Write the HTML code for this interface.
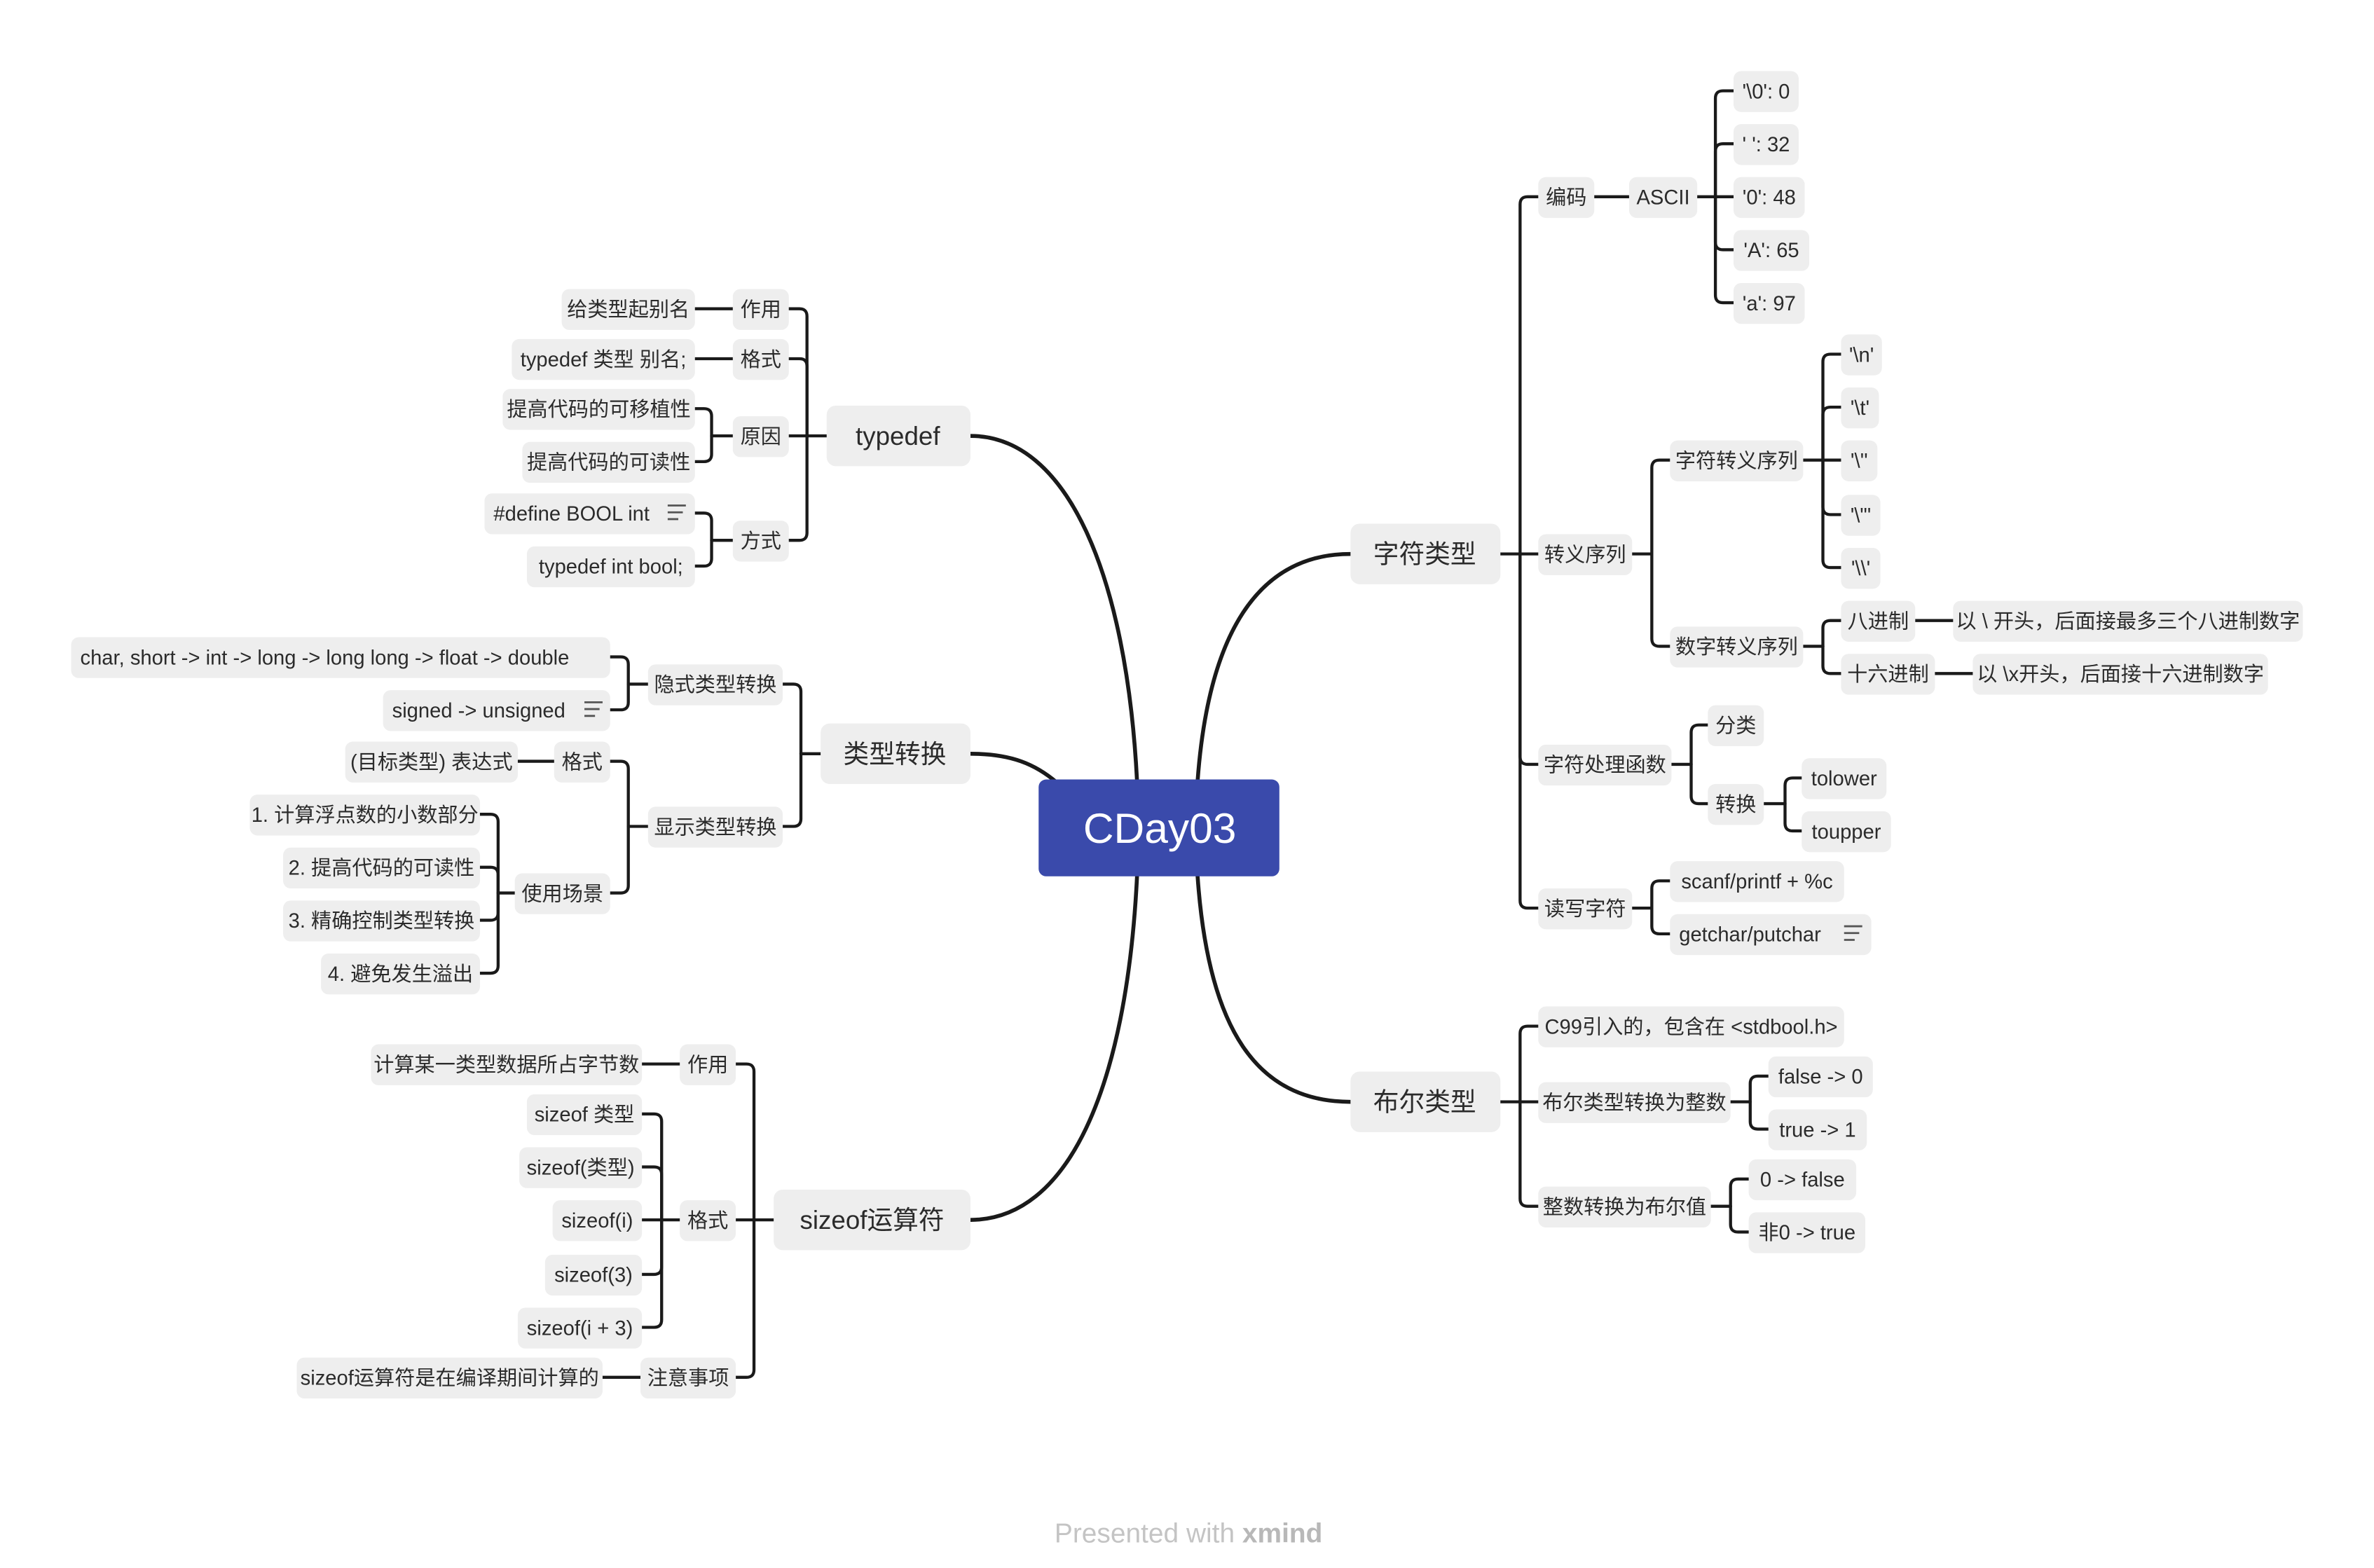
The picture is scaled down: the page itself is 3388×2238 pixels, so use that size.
<!DOCTYPE html>
<html><head><meta charset="utf-8"><style>
html,body{margin:0;padding:0;background:#fff;}
svg{display:block;}
text{font-family:"Liberation Sans","Noto Sans CJK SC",sans-serif;fill:#2b2b2b;}
.n rect{fill:#eeeeee;}
.s text{font-size:13.5px;}
.m text{font-size:17px;}
</style></head><body>
<svg id="sv" width="3388" height="2238" viewBox="0 0 1568 1036" preserveAspectRatio="none" xmlns="http://www.w3.org/2000/svg">
<g id="lines" fill="none" stroke="#1a1a1a" stroke-width="2" stroke-linecap="round"></g>
<g fill="none" stroke="#1a1a1a" stroke-width="2.6" stroke-linecap="round">
<path d="M751,516 C744,380 705,288 641,288"/>
<path d="M641,498 C668,498 684,505 698,517"/>
<path d="M751,579 C744,720 705,806 641,806"/>
<path d="M791,516 C798,420 830,366 892,366"/>
<path d="M791,579 C798,680 830,728 892,728"/>
</g>
<rect x="686" y="515" width="159" height="64" rx="5" fill="#3a4aab"/>
<text x="766" y="557" text-anchor="middle" style="font-size:28px;fill:#fff">CDay03</text>

<g class="n m">
<rect x="546" y="268" width="95" height="40" rx="6"/><text x="593" y="294" text-anchor="middle">typedef</text>
<rect x="542" y="478" width="99" height="40" rx="6"/><text x="591" y="504" text-anchor="middle">类型转换</text>
<rect x="511" y="786" width="130" height="40" rx="6"/><text x="576" y="812" text-anchor="middle">sizeof运算符</text>
<rect x="892" y="346" width="99" height="40" rx="6"/><text x="941" y="372" text-anchor="middle">字符类型</text>
<rect x="892" y="708" width="99" height="40" rx="6"/><text x="941" y="734" text-anchor="middle">布尔类型</text>
</g>

<g class="n s" id="nodes"></g>
</svg>
<script>
// connectors only (no text generated here)
var L=document.getElementById('lines');
function P(d){var p=document.createElementNS('http://www.w3.org/2000/svg','path');p.setAttribute('d',d);L.appendChild(p);}
function C(px,py,bx,ce,ys){var dir=ce>bx?1:-1;P('M'+px+','+py+'H'+bx);
ys.forEach(function(cy){var dy=cy-py;if(Math.abs(dy)<6){P('M'+bx+','+cy+'H'+ce);}else{var s=dy>0?1:-1;P('M'+bx+','+py+'V'+(cy-s*5)+'Q'+bx+','+cy+' '+(bx+dir*5)+','+cy+'H'+ce);}});}
function S(x1,y,x2){P('M'+x1+','+y+'H'+x2);}
C(546,288,533,521,[204,237,288,357]);S(484,204,459);S(484,237,459);
C(484,288,470,459,[270,305]);C(484,357,470,459,[339,374]);
C(542,498,529,517,[452,546]);C(428,452,415,403,[434,469]);C(428,546,415,403,[503,590]);
S(366,503,342);C(340,590,329,317,[538,573,608,643]);
C(511,806,498,486,[703,806,910]);S(449,703,424);C(449,806,437,424,[736,771,806,842,877]);S(423,910,398);
C(991,366,1004,1016,[130,366,505,600]);S(1053,130,1076);C(1121,130,1133,1145,[60,95,130,165,200]);
C(1078,366,1091,1103,[304,427]);C(1191,304,1204,1216,[234,269,304,340,375]);C(1191,427,1204,1216,[410,445]);
S(1265,410,1290);S(1278,445,1303);C(1104,505,1117,1128,[479,531]);C(1165,531,1179,1190,[514,549]);
C(1078,600,1091,1103,[582,617]);C(991,728,1004,1016,[678,728,797]);C(1143,728,1156,1168,[711,746]);C(1130,797,1143,1155,[779,814]);
</script>
<svg width="0" height="0" style="position:absolute"></svg>
<script>
// static nodes are placed below via innerHTML-free approach: move the static group
</script>
<div style="display:none"></div>
<svg width="3388" height="2238" viewBox="0 0 1568 1036" preserveAspectRatio="none" xmlns="http://www.w3.org/2000/svg" style="position:absolute;left:0;top:0">
<g class="n s">
<!-- typedef -->
<rect x="484" y="191" width="37" height="27" rx="5"/><text x="502.5" y="209" text-anchor="middle">作用</text>
<rect x="371" y="191" width="88" height="27" rx="5"/><text x="415" y="209" text-anchor="middle">给类型起别名</text>
<rect x="484" y="224" width="37" height="27" rx="5"/><text x="502.5" y="242" text-anchor="middle">格式</text>
<rect x="338" y="224" width="121" height="27" rx="5"/><text x="398.5" y="242" text-anchor="middle">typedef 类型 别名;</text>
<rect x="484" y="275" width="37" height="27" rx="5"/><text x="502.5" y="293" text-anchor="middle">原因</text>
<rect x="332" y="257" width="127" height="27" rx="5"/><text x="395.5" y="275" text-anchor="middle">提高代码的可移植性</text>
<rect x="345" y="292" width="114" height="27" rx="5"/><text x="402" y="310" text-anchor="middle">提高代码的可读性</text>
<rect x="484" y="344" width="37" height="27" rx="5"/><text x="502.5" y="362" text-anchor="middle">方式</text>
<rect x="320" y="326" width="139" height="27" rx="5"/><text x="326" y="344">#define BOOL int</text>
<rect x="348" y="361" width="111" height="27" rx="5"/><text x="403.5" y="379" text-anchor="middle">typedef int bool;</text>
<!-- 类型转换 -->
<rect x="428" y="439" width="89" height="27" rx="5"/><text x="472.5" y="457" text-anchor="middle">隐式类型转换</text>
<rect x="47" y="421" width="356" height="27" rx="5"/><text x="53" y="439">char, short -&gt; int -&gt; long -&gt; long long -&gt; float -&gt; double</text>
<rect x="253" y="456" width="150" height="27" rx="5"/><text x="259" y="474">signed -&gt; unsigned</text>
<rect x="428" y="533" width="89" height="27" rx="5"/><text x="472.5" y="551" text-anchor="middle">显示类型转换</text>
<rect x="366" y="490" width="37" height="27" rx="5"/><text x="384.5" y="508" text-anchor="middle">格式</text>
<rect x="228" y="490" width="114" height="27" rx="5"/><text x="285" y="508" text-anchor="middle">(目标类型) 表达式</text>
<rect x="340" y="577" width="63" height="27" rx="5"/><text x="371.5" y="595" text-anchor="middle">使用场景</text>
<rect x="165" y="525" width="152" height="27" rx="5"/><text x="241" y="543" text-anchor="middle">1. 计算浮点数的小数部分</text>
<rect x="187" y="560" width="130" height="27" rx="5"/><text x="252" y="578" text-anchor="middle">2. 提高代码的可读性</text>
<rect x="187" y="595" width="130" height="27" rx="5"/><text x="252" y="613" text-anchor="middle">3. 精确控制类型转换</text>
<rect x="212" y="630" width="105" height="27" rx="5"/><text x="264.5" y="648" text-anchor="middle">4. 避免发生溢出</text>
<!-- sizeof -->
<rect x="449" y="690" width="37" height="27" rx="5"/><text x="467.5" y="708" text-anchor="middle">作用</text>
<rect x="245" y="690" width="179" height="27" rx="5"/><text x="334.5" y="708" text-anchor="middle">计算某一类型数据所占字节数</text>
<rect x="449" y="793" width="37" height="27" rx="5"/><text x="467.5" y="811" text-anchor="middle">格式</text>
<rect x="348" y="723" width="76" height="27" rx="5"/><text x="386" y="741" text-anchor="middle">sizeof 类型</text>
<rect x="343" y="758" width="81" height="27" rx="5"/><text x="383.5" y="776" text-anchor="middle">sizeof(类型)</text>
<rect x="365" y="793" width="59" height="27" rx="5"/><text x="394.5" y="811" text-anchor="middle">sizeof(i)</text>
<rect x="360" y="829" width="64" height="27" rx="5"/><text x="392" y="847" text-anchor="middle">sizeof(3)</text>
<rect x="342" y="864" width="82" height="27" rx="5"/><text x="383" y="882" text-anchor="middle">sizeof(i + 3)</text>
<rect x="423" y="897" width="63" height="27" rx="5"/><text x="454.5" y="915" text-anchor="middle">注意事项</text>
<rect x="196" y="897" width="202" height="27" rx="5"/><text x="297" y="915" text-anchor="middle">sizeof运算符是在编译期间计算的</text>
<!-- 字符类型 -->
<rect x="1016" y="117" width="37" height="27" rx="5"/><text x="1034.5" y="135" text-anchor="middle">编码</text>
<rect x="1076" y="117" width="45" height="27" rx="5"/><text x="1098.5" y="135" text-anchor="middle">ASCII</text>
<rect x="1145" y="47" width="43" height="27" rx="5"/><text x="1166.5" y="65" text-anchor="middle">'\0': 0</text>
<rect x="1145" y="82" width="43" height="27" rx="5"/><text x="1166.5" y="100" text-anchor="middle">' ': 32</text>
<rect x="1145" y="117" width="47" height="27" rx="5"/><text x="1168.5" y="135" text-anchor="middle">'0': 48</text>
<rect x="1145" y="152" width="50" height="27" rx="5"/><text x="1170" y="170" text-anchor="middle">'A': 65</text>
<rect x="1145" y="187" width="47" height="27" rx="5"/><text x="1168.5" y="205" text-anchor="middle">'a': 97</text>
<rect x="1016" y="353" width="62" height="27" rx="5"/><text x="1047" y="371" text-anchor="middle">转义序列</text>
<rect x="1103" y="291" width="88" height="27" rx="5"/><text x="1147" y="309" text-anchor="middle">字符转义序列</text>
<rect x="1216" y="221" width="27" height="27" rx="5"/><text x="1229.5" y="239" text-anchor="middle">'\n'</text>
<rect x="1216" y="256" width="25" height="27" rx="5"/><text x="1228.5" y="274" text-anchor="middle">'\t'</text>
<rect x="1216" y="291" width="24" height="27" rx="5"/><text x="1228" y="309" text-anchor="middle">'\''</text>
<rect x="1216" y="327" width="26" height="27" rx="5"/><text x="1229" y="345" text-anchor="middle">'\"'</text>
<rect x="1216" y="362" width="26" height="27" rx="5"/><text x="1229" y="380" text-anchor="middle">'\\'</text>
<rect x="1103" y="414" width="88" height="27" rx="5"/><text x="1147" y="432" text-anchor="middle">数字转义序列</text>
<rect x="1216" y="397" width="49" height="27" rx="5"/><text x="1240.5" y="415" text-anchor="middle">八进制</text>
<rect x="1290" y="397" width="231" height="27" rx="5"/><text x="1405.5" y="415" text-anchor="middle">以 \ 开头，后面接最多三个八进制数字</text>
<rect x="1216" y="432" width="62" height="27" rx="5"/><text x="1247" y="450" text-anchor="middle">十六进制</text>
<rect x="1303" y="432" width="195" height="27" rx="5"/><text x="1400.5" y="450" text-anchor="middle">以 \x开头，后面接十六进制数字</text>
<rect x="1016" y="492" width="88" height="27" rx="5"/><text x="1060" y="510" text-anchor="middle">字符处理函数</text>
<rect x="1128" y="466" width="37" height="27" rx="5"/><text x="1146.5" y="484" text-anchor="middle">分类</text>
<rect x="1128" y="518" width="37" height="27" rx="5"/><text x="1146.5" y="536" text-anchor="middle">转换</text>
<rect x="1190" y="501" width="56" height="27" rx="5"/><text x="1218" y="519" text-anchor="middle">tolower</text>
<rect x="1190" y="536" width="59" height="27" rx="5"/><text x="1219.5" y="554" text-anchor="middle">toupper</text>
<rect x="1016" y="587" width="62" height="27" rx="5"/><text x="1047" y="605" text-anchor="middle">读写字符</text>
<rect x="1103" y="569" width="115" height="27" rx="5"/><text x="1160.5" y="587" text-anchor="middle">scanf/printf + %c</text>
<rect x="1103" y="604" width="133" height="27" rx="5"/><text x="1109" y="622">getchar/putchar</text>
<!-- 布尔类型 -->
<rect x="1016" y="665" width="202" height="27" rx="5"/><text x="1117" y="683" text-anchor="middle">C99引入的，包含在 &lt;stdbool.h&gt;</text>
<rect x="1016" y="715" width="127" height="27" rx="5"/><text x="1079.5" y="733" text-anchor="middle">布尔类型转换为整数</text>
<rect x="1168" y="698" width="69" height="27" rx="5"/><text x="1202.5" y="716" text-anchor="middle">false -&gt; 0</text>
<rect x="1168" y="733" width="65" height="27" rx="5"/><text x="1200.5" y="751" text-anchor="middle">true -&gt; 1</text>
<rect x="1016" y="784" width="114" height="27" rx="5"/><text x="1073" y="802" text-anchor="middle">整数转换为布尔值</text>
<rect x="1155" y="766" width="71" height="27" rx="5"/><text x="1190.5" y="784" text-anchor="middle">0 -&gt; false</text>
<rect x="1155" y="801" width="77" height="27" rx="5"/><text x="1193.5" y="819" text-anchor="middle">非0 -&gt; true</text>
</g>
<!-- note icons -->
<g stroke="#555" stroke-width="1.3">
<path d="M441,334h12M441,338.5h10M441,343h7"/>
<path d="M386,464h12M386,468.5h10M386,473h7"/>
<path d="M1218,612h12M1218,616.5h10M1218,621h7"/>
</g>
<text x="785" y="1019" text-anchor="middle" style="font-size:18px;fill:#c4c4c4">Presented with <tspan style="font-weight:bold;fill:#b8b8b8">xmind</tspan></text>
</svg>
</body></html>
